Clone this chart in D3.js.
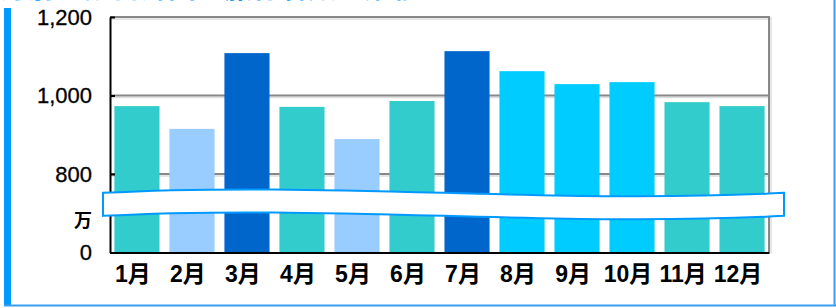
<!DOCTYPE html>
<html>
<head>
<meta charset="utf-8">
<script src="https://cdn.jsdelivr.net/npm/d3@7"></script>
<style>
    html, body { margin: 0; padding: 0; background: #fff; }
    svg { display: block; }
</style>
</head>
<body>
<div id="chart"></div>
<script>
/* DATA */
const months = ["1月", "2月", "3月", "4月", "5月", "6月", "7月", "8月", "9月", "10月", "11月", "12月"]
const values = [973, 915, 1108, 971, 889, 986, 1113, 1062, 1029, 1034, 983, 973]
// colour group of each bar
const groups = ["a", "b", "c", "a", "b", "a", "c", "d", "d", "d", "a", "a"]
const yTicks = [600, 800, 1000, 1200]
const unitLabel = "万"
const titleText = "月別の訪日外国人旅行者数の推移"

const W = 836, H = 308
const plot = { left: 110, right: 769, top: 17, bottom: 252.5 }

const svg = d3.select("#chart").append("svg")
    .attr("width", W)
    .attr("height", H)

// frame
svg.append("rect").attr("x", 4).attr("y", 8).attr("width", 7).attr("height", H - 10).attr("fill", "#0099ff")
svg.append("line").attr("x1", 4).attr("x2", W).attr("y1", 305.5).attr("y2", 305.5)
    .attr("stroke", "#3a9ff0").attr("stroke-width", 2)
svg.append("line").attr("x1", 834.5).attr("x2", 834.5).attr("y1", 0).attr("y2", 306)
    .attr("stroke", "#3a9ff0").attr("stroke-width", 2)

// clipped title at the very top
svg.append("text")
    .attr("x", 0).attr("y", -2)
    .attr("fill", "#0099ff")
    .style("font", "bold 28px 'Noto Sans CJK JP'")
    .text(titleText)

// scales (axis is broken: bottom stands for 0)
const x = d3.scaleBand()
    .domain(months)
    .range([plot.left, plot.right])
    .paddingInner(0.18)
    .paddingOuter(0.08)

const y = d3.scaleLinear()
    .domain([600, 1200])
    .range([plot.bottom, plot.top])

const color = d3.scaleOrdinal()
    .domain(["a", "b", "c", "d"])
    .range(["#33cccc", "#99ccff", "#0066cc", "#00ccff"])

// gridlines with light shadow
const grid = svg.append("g")
grid.selectAll("line.shadow")
    .data(yTicks.slice(1))
    .enter().append("line")
    .attr("class", "shadow")
    .attr("x1", plot.left).attr("x2", plot.right + 2)
    .attr("y1", d => y(d) + 2).attr("y2", d => y(d) + 2)
    .attr("stroke", "#dedede").attr("stroke-width", 1.5)
grid.selectAll("line.main")
    .data(yTicks.slice(1))
    .enter().append("line")
    .attr("class", "main")
    .attr("x1", plot.left).attr("x2", plot.right)
    .attr("y1", d => y(d)).attr("y2", d => y(d))
    .attr("stroke", "#888").attr("stroke-width", 2)
// right border
svg.append("line")
    .attr("x1", plot.right + 2).attr("x2", plot.right + 2)
    .attr("y1", plot.top).attr("y2", plot.bottom + 1)
    .attr("stroke", "#dedede").attr("stroke-width", 1.5)
svg.append("line")
    .attr("x1", plot.right).attr("x2", plot.right)
    .attr("y1", plot.top - 1).attr("y2", plot.bottom)
    .attr("stroke", "#888").attr("stroke-width", 2)

// bars
svg.append("g")
    .selectAll("rect")
    .data(months.map((m, i) => ({ month: m, value: values[i], group: groups[i] })))
    .enter().append("rect")
    .attr("x", d => x(d.month))
    .attr("width", x.bandwidth())
    .attr("y", d => y(d.value))
    .attr("height", d => y(600) - y(d.value))
    .attr("fill", d => color(d.group))

// y axis
const yAxis = svg.append("g")
    .attr("transform", `translate(${plot.left},0)`)
    .call(d3.axisLeft(y)
        .tickValues(yTicks)
        .tickSizeInner(-5)
        .tickSizeOuter(0)
        .tickPadding(18)
        .tickFormat(d => d === 600 ? "0" : d3.format(",")(d)))
yAxis.select(".domain").attr("stroke", "#000").attr("stroke-width", 2)
yAxis.selectAll(".tick line").attr("stroke", "#000").attr("stroke-width", 2)
yAxis.selectAll("text")
    .attr("fill", "#000")
    .style("font", "22px 'Liberation Sans', Arial, sans-serif")
    .style("stroke", "#000").style("stroke-width", 0.3)

// unit label
svg.append("text")
    .attr("x", plot.left - 18)
    .attr("y", y(681))
    .attr("dy", "0.36em")
    .attr("text-anchor", "end")
    .attr("fill", "#000")
    .style("font", "bold 18px 'Noto Sans CJK JP'")
    .text(unitLabel)

// x axis
const xAxis = svg.append("g")
    .attr("transform", `translate(0,${plot.bottom})`)
    .call(d3.axisBottom(x).tickSize(0).tickPadding(0))
xAxis.select(".domain").attr("stroke", "#000").attr("stroke-width", 2)
xAxis.selectAll("text")
    .attr("x", -4)
    .attr("y", 29)
    .attr("dy", null)
    .attr("fill", "#000")
    .style("font", "bold 23px 'Liberation Sans', 'Noto Sans CJK JP', sans-serif")

// break marker (wavy white band)
const bx0 = plot.left - 7, bx1 = plot.right + 15
const bTop = y(752), bh = 23
const bandPath = d3.path()
bandPath.moveTo(bx0, bTop)
bandPath.bezierCurveTo(bx0 + (bx1 - bx0) / 3, bTop - 12, bx0 + 2 * (bx1 - bx0) / 3, bTop + 12, bx1, bTop)
bandPath.lineTo(bx1, bTop + bh)
bandPath.bezierCurveTo(bx0 + 2 * (bx1 - bx0) / 3, bTop + bh + 12, bx0 + (bx1 - bx0) / 3, bTop + bh - 12, bx0, bTop + bh)
bandPath.closePath()
svg.append("path")
    .attr("d", bandPath.toString())
    .attr("fill", "#fff")
    .attr("stroke", "#0099ff")
    .attr("stroke-width", 2)
</script>
</body>
</html>
